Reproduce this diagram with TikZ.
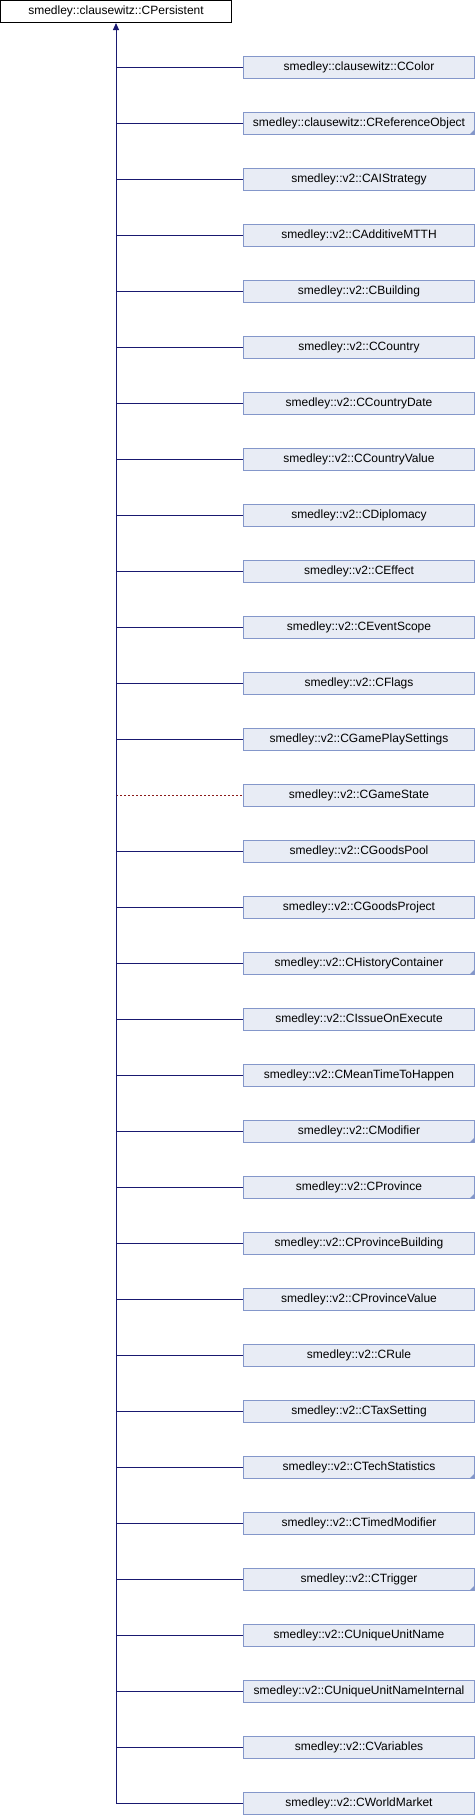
\documentclass[tikz,border=0pt]{standalone}
\usepackage{fontspec}
\setmainfont{Liberation Sans}
\usetikzlibrary{arrows.meta}
\definecolor{edgeblue}{HTML}{191970}
\definecolor{edgered}{HTML}{8B1A1A}
\definecolor{boxfill}{HTML}{E8ECF5}
\definecolor{boxline}{HTML}{8497CA}
\tikzset{
classbox/.style={draw=boxline, fill=boxfill, line width=1pt, minimum width=231pt, minimum height=22pt, inner sep=0pt, font=\fontsize{12}{14}\selectfont},
baseclass/.style={classbox, draw=black, fill=white},
folded/.style={path picture={
  \fill[boxline] (path picture bounding box.south east) -- ++(-5pt,0) -- ++(5pt,5pt) -- cycle;
  }},
plain/.style={},
pubedge/.style={draw=edgeblue, line width=1pt},
protedge/.style={draw=edgered, line width=1pt, dash pattern=on 2pt off 2pt}
}

\begin{document}
\begin{tikzpicture}[x=1pt, y=1pt]
\useasboundingbox (0,0) rectangle (476,-1816);
\node[baseclass] (base) at (116,-11.5) {smedley::clausewitz::CPersistent};
% derived classes
\foreach \ns/\cls/\look/\edge [count=\i] in {
  clausewitz/CColor/plain/pubedge,
  clausewitz/CReferenceObject/folded/pubedge,
  v2/CAIStrategy/plain/pubedge,
  v2/CAdditiveMTTH/plain/pubedge,
  v2/CBuilding/plain/pubedge,
  v2/CCountry/plain/pubedge,
  v2/CCountryDate/plain/pubedge,
  v2/CCountryValue/plain/pubedge,
  v2/CDiplomacy/plain/pubedge,
  v2/CEffect/plain/pubedge,
  v2/CEventScope/plain/pubedge,
  v2/CFlags/plain/pubedge,
  v2/CGamePlaySettings/plain/pubedge,
  v2/CGameState/plain/protedge,
  v2/CGoodsPool/plain/pubedge,
  v2/CGoodsProject/plain/pubedge,
  v2/CHistoryContainer/folded/pubedge,
  v2/CIssueOnExecute/plain/pubedge,
  v2/CMeanTimeToHappen/plain/pubedge,
  v2/CModifier/folded/pubedge,
  v2/CProvince/folded/pubedge,
  v2/CProvinceBuilding/plain/pubedge,
  v2/CProvinceValue/plain/pubedge,
  v2/CRule/plain/pubedge,
  v2/CTaxSetting/plain/pubedge,
  v2/CTechStatistics/folded/pubedge,
  v2/CTimedModifier/plain/pubedge,
  v2/CTrigger/folded/pubedge,
  v2/CUniqueUnitName/plain/pubedge,
  v2/CUniqueUnitNameInternal/plain/pubedge,
  v2/CVariables/plain/pubedge,
  v2/CWorldMarket/plain/pubedge}
{
  \node[classbox, \look] (c\i) at (359,{-67.5-56*(\i-1)}) {smedley::\ns::\cls};
  \draw[\edge] (base.south |- c\i.west) -- (c\i.west);
}
\draw[pubedge, -{Triangle[width=6pt,length=7pt]}] (base.south |- c32.west) -- (base.south);
\end{tikzpicture}
\end{document}
